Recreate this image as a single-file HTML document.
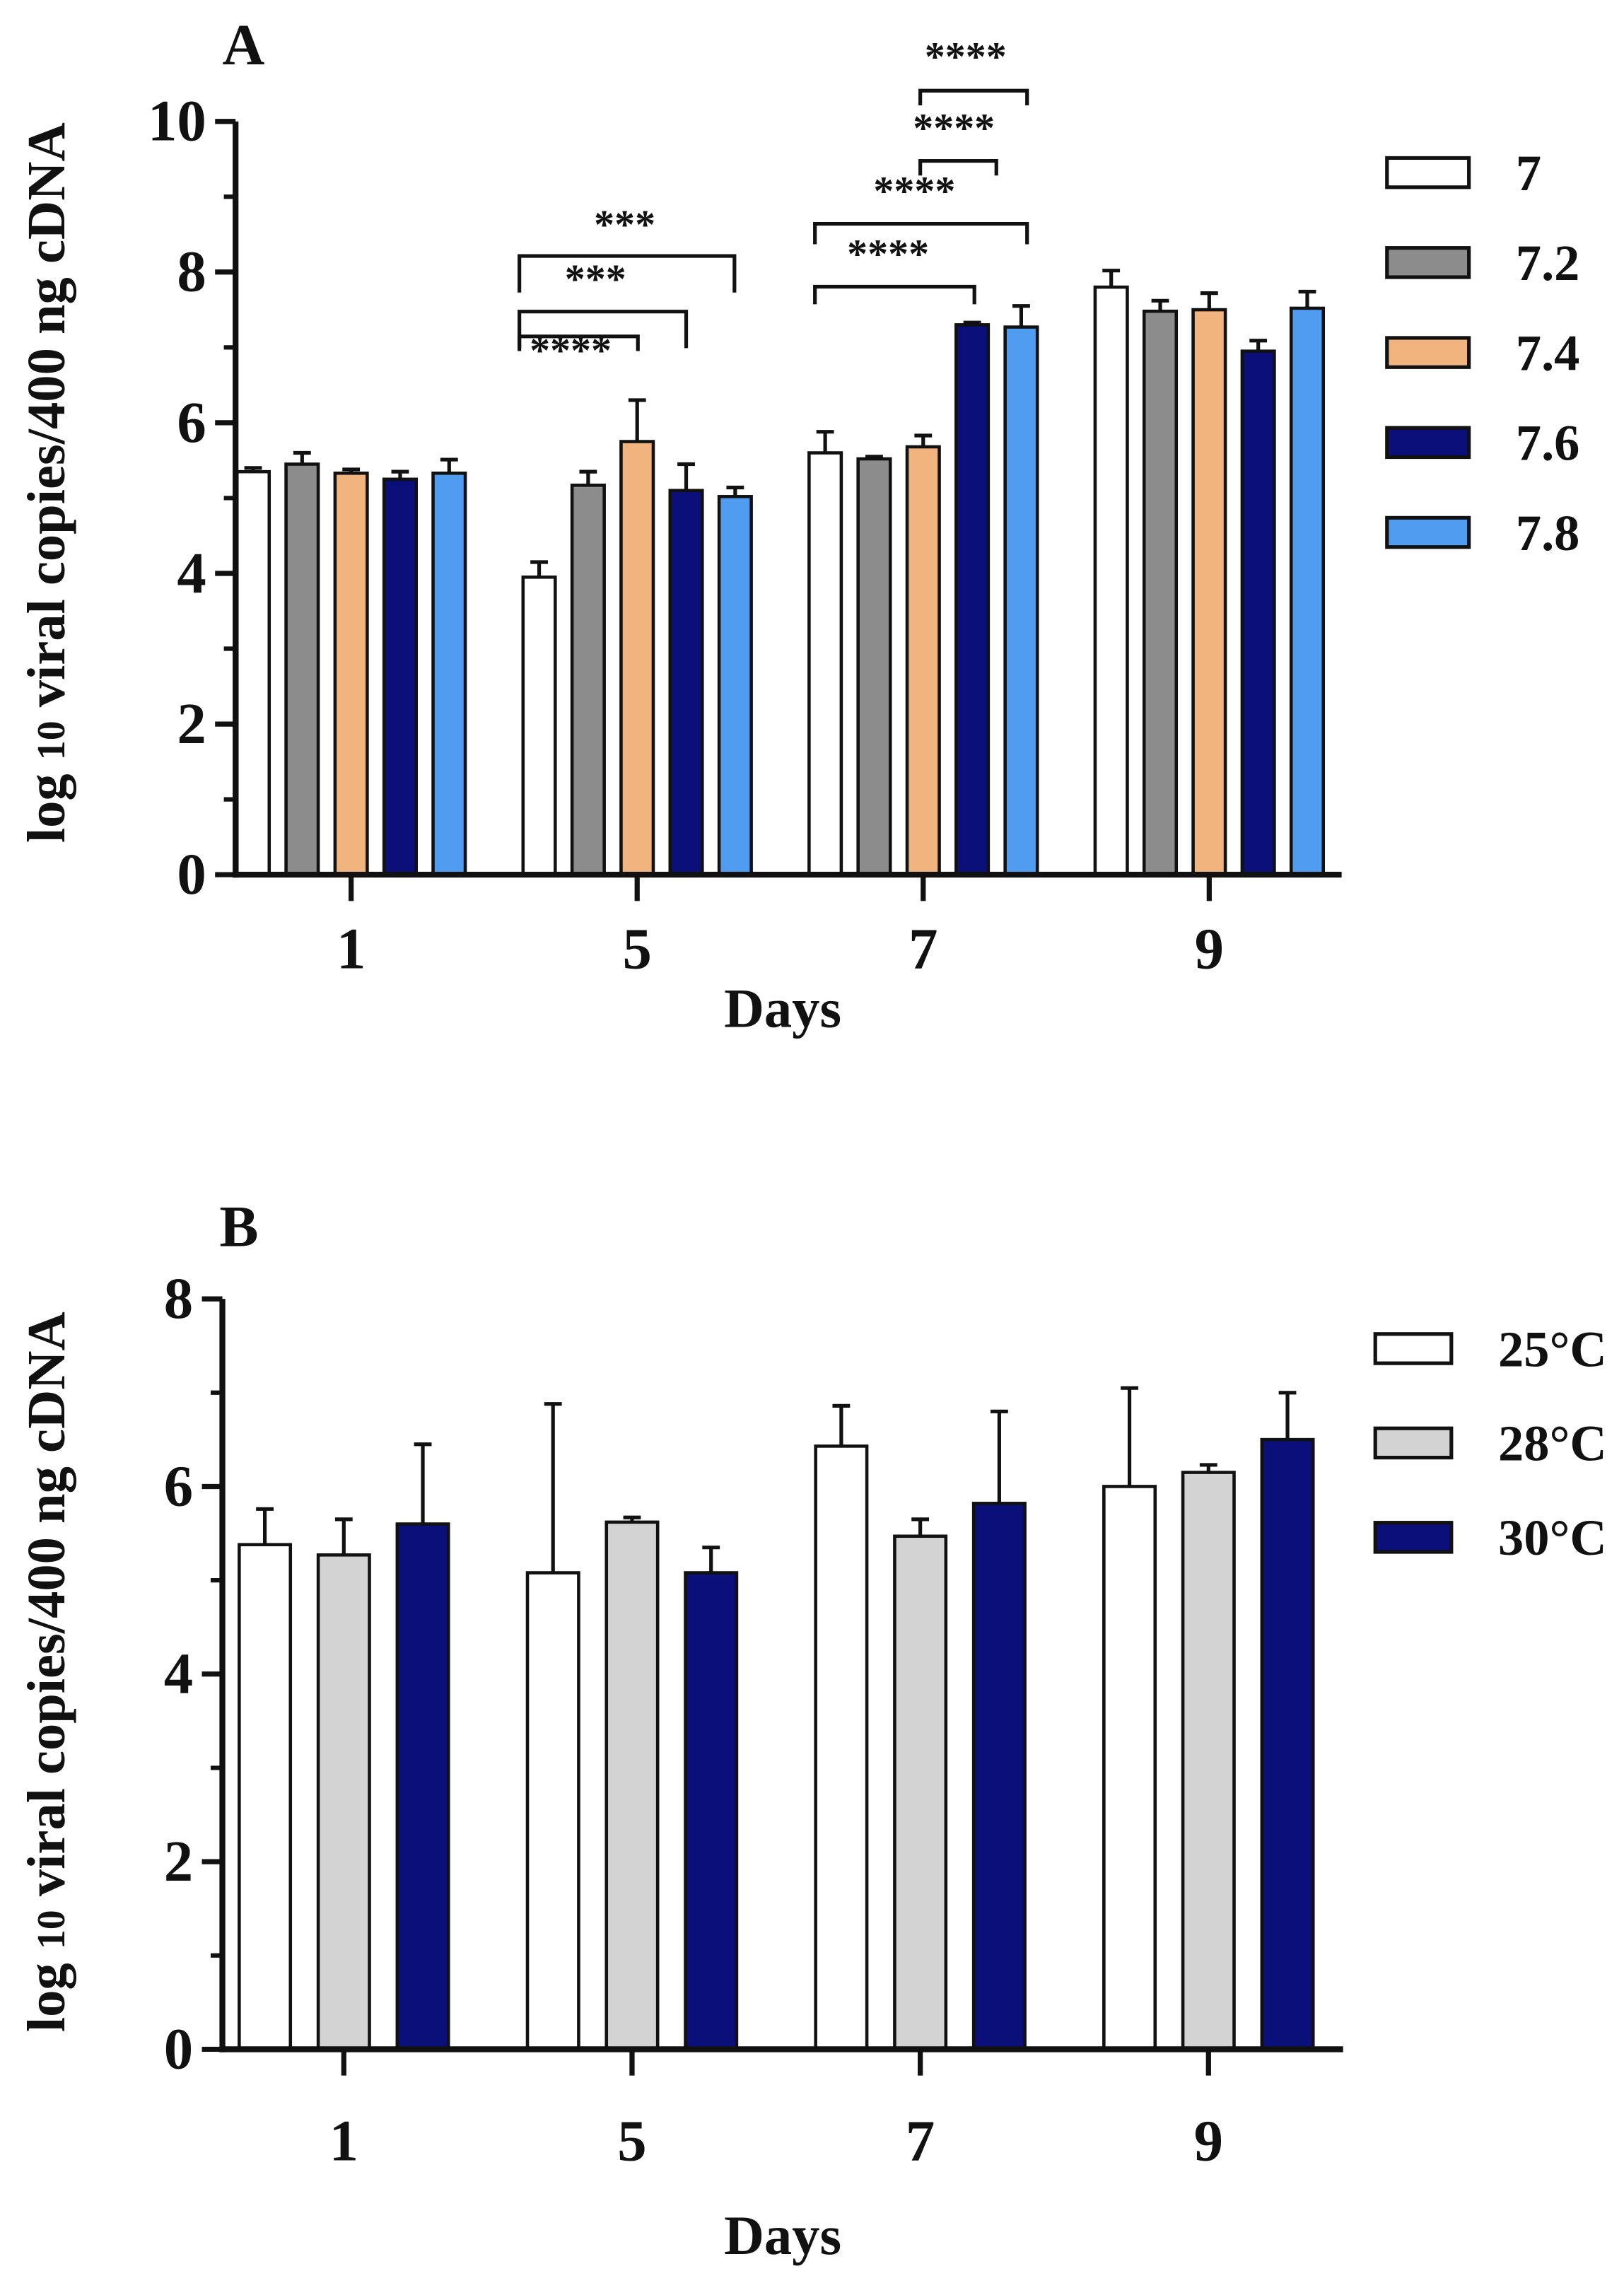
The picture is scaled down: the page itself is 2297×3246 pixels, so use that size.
<!DOCTYPE html>
<html><head><meta charset="utf-8"><style>
html,body{margin:0;padding:0;background:#fff}
svg{display:block}
text{font-family:"Liberation Serif",serif;font-weight:bold;fill:#111}
</style></head><body>
<svg id="fig" xmlns="http://www.w3.org/2000/svg" width="2297" height="3246" viewBox="0 0 1110 1569" preserveAspectRatio="none"></svg>
<script>
// ---- Panel A data ----
const daysA = ["1","5","7","9"];
const seriesA = ["7","7.2","7.4","7.6","7.8"];
const colorsA = ["#ffffff","#8c8c8c","#f2b47e","#0a0f7a","#4f9cf0"];
const valuesA = [
  [5.35,3.95,5.6,7.8],
  [5.45,5.17,5.52,7.48],
  [5.33,5.75,5.68,7.5],
  [5.25,5.1,7.3,6.95],
  [5.33,5.02,7.27,7.52]
];
const errorsA = [
  [0.05,0.2,0.28,0.22],
  [0.15,0.18,0.03,0.14],
  [0.05,0.55,0.15,0.22],
  [0.1,0.35,0.03,0.14],
  [0.18,0.12,0.28,0.22]
];
const ticksA = [0,2,4,6,8,10];
// ---- Panel B data ----
const daysB = ["1","5","7","9"];
const seriesB = ["25°C","28°C","30°C"];
const colorsB = ["#ffffff","#d3d3d3","#0a0f7a"];
const valuesB = [
  [5.38,5.08,6.43,6.0],
  [5.27,5.62,5.47,6.15],
  [5.6,5.08,5.82,6.5]
];
const errorsB = [
  [0.38,1.8,0.43,1.05],
  [0.38,0.05,0.18,0.08],
  [0.85,0.27,0.98,0.5]
];
const ticksB = [0,2,4,6,8];

const NS="http://www.w3.org/2000/svg";
const svg=document.getElementById('fig');
function mk(tag,attrs,parent,txt){const e=document.createElementNS(NS,tag);for(const k in attrs)e.setAttribute(k,attrs[k]);if(txt!==undefined)e.textContent=txt;(parent||svg).appendChild(e);return e;}

function panel(o){
  const g=mk('g',{});
  
  
  const y=v=>o.y0-(v/o.ymax)*(o.y0-o.ytop);
  const n=o.series.length;
  const gx=i=>o.gx0+i*o.gstep;
  for(let s=0;s<n;s++){
    for(let d=0;d<o.days.length;d++){
      const cx=gx(d)+(s-(n-1)/2)*o.bstep;
      const v=o.values[s][d], e=o.errors[s][d];
      const top=y(v+e);
      const eb=mk('line',{x1:cx,x2:cx,y1:y(v),y2:top,stroke:'#111','stroke-width':2.5},g);
      
      
      const cap=mk('line',{x1:cx-6,x2:cx+6,y1:top,y2:top,stroke:'#111','stroke-width':2.5},g);
      
      
      const r=mk('rect',{x:cx-o.bw/2,y:y(v),width:o.bw,height:o.y0-y(v),fill:o.colors[s],stroke:'#111','stroke-width':2.2},g);
      
      
    }
  }
  const ya=mk('line',{x1:o.x0,x2:o.x0,y1:o.ytop,y2:o.y0+2,stroke:'#111','stroke-width':4},g);
  
  
  const xa=mk('line',{x1:o.x0-2,x2:o.xend,y1:o.y0,y2:o.y0,stroke:'#111','stroke-width':4},g);
  
  
  o.ticks.forEach(t=>{
    mk('line',{x1:o.x0-14,x2:o.x0,y1:y(t),y2:y(t),stroke:'#111','stroke-width':3.5},g);
    const lb=mk('text',{x:o.x0-20,y:y(t)+13,'text-anchor':'end','font-size':40},g,String(t));
    
    
    if(t<o.ymax) mk('line',{x1:o.x0-8,x2:o.x0,y1:y(t+1),y2:y(t+1),stroke:'#111','stroke-width':3},g);
  });
  o.days.forEach((d,i)=>{
    mk('line',{x1:gx(i),x2:gx(i),y1:o.y0,y2:o.y0+18,stroke:'#111','stroke-width':3.5},g);
    const lb=mk('text',{x:gx(i),y:o.y0+o.xlabOff,'text-anchor':'middle','font-size':40},g,d);
    
    
  });
  const xt=mk('text',{x:535,y:o.xtitleY,'text-anchor':'middle','font-size':38},g,'Days');
  
  
  const yt=mk('text',{x:0,y:0,'text-anchor':'middle','font-size':37,transform:`translate(${o.ytx},${o.yty}) rotate(-90)`},g);
  
  
  mk('tspan',{},yt,'log ');
  mk('tspan',{'font-size':27},yt,'10');
  mk('tspan',{},yt,' viral copies/400 ng cDNA');
  const pl=mk('text',{x:o.labX,y:o.labY,'font-size':40},g,o.label);
  
  
  o.series.forEach((s,i)=>{
    const ly=o.legY0+i*o.legStep;
    const lg=mk('g',{},g);
    
    
    mk('rect',{x:o.legX,y:ly-10,width:o.legW,height:20,fill:o.colors[i],stroke:'#111','stroke-width':2.5},lg);
    mk('text',{x:o.legX+o.legW+32,y:ly+12,'font-size':35},lg,s);
  });
  return {g,y,gx};
}

const A=panel({name:'panel-a',label:'A',labX:152,labY:44,days:daysA,series:seriesA,colors:colorsA,values:valuesA,errors:errorsA,ticks:ticksA,
  x0:161,xend:917,y0:598,ytop:83,ymax:10,gx0:240,gstep:195.5,bstep:33.5,bw:22,xlabOff:64,xtitleY:702,ytx:44,yty:330,
  legX:948,legW:56,legY0:118,legStep:61.5});
const B=panel({name:'panel-b',label:'B',labX:150,labY:852,days:daysB,series:seriesB,colors:colorsB,values:valuesB,errors:errorsB,ticks:ticksB,
  x0:152,xend:918,y0:1401,ytop:888,ymax:8,gx0:235,gstep:197,bstep:54,bw:35,xlabOff:76,xtitleY:1541,ytx:44,yty:1143,
  legX:940,legW:52,legY0:922,legStep:64.5});

const sigLabels=["****","***","***","****","****","****","****"];
const sig=[
 [355,436,230,240,240,0,390,249],
 [355,469,213,238,238,1,407,200],
 [355,502,175,200,200,2,427,163],
 [557,666,196,208,208,3,607,183],
 [557,702,153,167,167,4,625,140],
 [629,681,110,120,120,5,652,97],
 [629,702,62,72,72,6,660,48]
];
sig.forEach(b=>{
  const p=mk('path',{d:`M${b[0]} ${b[3]} V${b[2]} H${b[1]} V${b[4]}`,fill:'none',stroke:'#111','stroke-width':2.5},A.g);
  
  
  const t=mk('text',{x:b[6],y:b[7],'text-anchor':'middle','font-size':28},A.g,sigLabels[b[5]]);
  
  
});
</script>
</body></html>
